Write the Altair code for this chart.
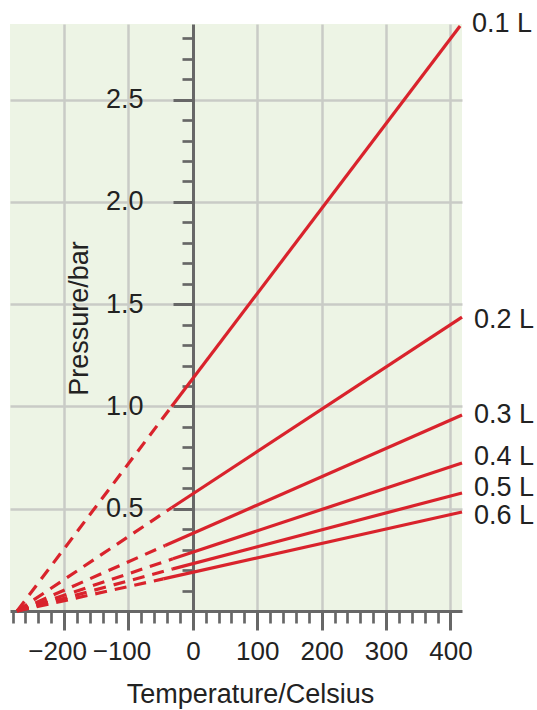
import altair as alt
import pandas as pd

# ---- data ----
volumes = ["0.1 L", "0.2 L", "0.3 L", "0.4 L", "0.5 L", "0.6 L"]
zero_temp = [-273, -273, -273, -273, -273, -273]
zero_p = [0.0, 0.0, 0.0, 0.0, 0.0, 0.0]
mid_temp = [-33, -33, -43, -31, -31, -46]
mid_p = [1.0, 0.505, 0.32, 0.255, 0.206, 0.157]
end_temp = [415, 418, 418, 418, 418, 418]
end_p = [2.86, 1.437, 0.958, 0.724, 0.577, 0.484]
label_p = [2.87, 1.423, 0.958, 0.752, 0.6, 0.463]

x_major = [-200, -100, 0, 100, 200, 300, 400]
x_grid = [-200, -100, 100, 200, 300, 400]
x_minor = [-280, -260, -240, -220, -200, -180, -160, -140, -120, -100,
           -80, -60, -40, -20, 0, 20, 40, 60, 80, 100, 120, 140, 160, 180,
           200, 220, 240, 260, 280, 300, 320, 340, 360, 380, 400]
y_major = [0.5, 1.0, 1.5, 2.0, 2.5]
y_minor = [0.1, 0.2, 0.3, 0.4, 0.5, 0.6, 0.7, 0.8, 0.9, 1.0, 1.1, 1.2, 1.3,
           1.4, 1.5, 1.6, 1.7, 1.8, 1.9, 2.0, 2.1, 2.2, 2.3, 2.4, 2.5, 2.6,
           2.7, 2.8]
x_domain = [-284, 418]
y_domain = [0, 2.87]

# ---- layout ----
W, H = 452, 587
Y_AXIS_OFFSET = -round((0 - x_domain[0]) / (x_domain[1] - x_domain[0]) * W)

FONT = "Liberation Sans"
FS = 27
TEXT = "#222222"
AXIS = "#676767"
GRID = "#c9cbc6"
RED = "#d9232c"

dashed = pd.DataFrame({"volume": volumes * 2,
                       "temp": zero_temp + mid_temp,
                       "p": zero_p + mid_p})
solid = pd.DataFrame({"volume": volumes * 2,
                      "temp": mid_temp + end_temp,
                      "p": mid_p + end_p})
labels = pd.DataFrame({"volume": volumes, "temp": end_temp, "p": label_p})

xs = alt.Scale(domain=x_domain, nice=False, zero=False)
ys = alt.Scale(domain=y_domain, nice=False, zero=False)

# grid-only axes
grid_x = alt.Axis(orient="bottom", values=x_grid, grid=True, gridColor=GRID,
                  gridWidth=2.5, ticks=False, labels=False, domain=False,
                  title=None)
grid_y = alt.Axis(orient="left", values=y_major, grid=True, gridColor=GRID,
                  gridWidth=2.5, ticks=False, labels=False, domain=False,
                  title=None)

# minor tick axes
minor_x = alt.Axis(orient="bottom", values=x_minor, grid=False, ticks=True,
                   tickSize=12, tickWidth=2.7, tickColor=AXIS, labels=False,
                   domain=False, title=None)
minor_y = alt.Axis(orient="left", values=y_minor, grid=False, ticks=True,
                   tickSize=11, tickWidth=2.7, tickColor=AXIS, labels=False,
                   domain=False, title=None, offset=Y_AXIS_OFFSET)

# major axes with labels and titles
major_x = alt.Axis(orient="bottom", values=x_major, grid=False, ticks=True,
                   tickSize=19, tickWidth=3, tickColor=AXIS, domain=True,
                   domainColor=AXIS, domainWidth=3, labels=True,
                   labelFont=FONT, labelFontSize=26, labelColor=TEXT,
                   labelPadding=8, labelOverlap=False, labelFlush=False,
                   labelOffset={"condition": {"test": "datum.value < 0",
                                              "value": -7},
                                "value": 0},
                   format="d",
                   title="Temperature/Celsius", titleFont=FONT,
                   titleFontSize=FS, titleFontWeight="normal",
                   titleColor=TEXT, titleX=240, titleY=91,
                   titleAlign="center", titleBaseline="alphabetic")
major_y = alt.Axis(orient="left", values=y_major, grid=False, ticks=True,
                   tickSize=20, tickWidth=3, tickColor=AXIS, domain=True,
                   domainColor=AXIS, domainWidth=3, labels=True,
                   labelFont=FONT, labelFontSize=FS, labelColor=TEXT,
                   labelPadding=30, labelOverlap=False, labelFlush=False,
                   format=".1f", offset=Y_AXIS_OFFSET,
                   title="Pressure/bar", titleFont=FONT, titleFontSize=FS,
                   titleFontWeight="normal", titleColor=TEXT, titleAngle=270,
                   titleX=-106, titleY=294, titleAlign="center",
                   titleBaseline="alphabetic")

dash_layer = alt.Chart(dashed).mark_line(
    color=RED, strokeWidth=3.2, strokeDash=[12, 8]
).encode(
    x=alt.X("temp:Q", scale=xs, axis=grid_x),
    y=alt.Y("p:Q", scale=ys, axis=grid_y),
    detail="volume:N",
)

solid_layer = alt.Chart(solid).mark_line(
    color=RED, strokeWidth=3.2
).encode(
    x=alt.X("temp:Q", scale=xs, axis=minor_x),
    y=alt.Y("p:Q", scale=ys, axis=minor_y),
    detail="volume:N",
)

label_layer = alt.Chart(labels).mark_text(
    align="left", baseline="middle", dx=12, font=FONT, fontSize=FS,
    color=TEXT
).encode(
    x=alt.X("temp:Q", scale=xs, axis=major_x),
    y=alt.Y("p:Q", scale=ys, axis=major_y),
    text="volume:N",
)

chart = alt.layer(dash_layer, solid_layer, label_layer).resolve_axis(
    x="independent", y="independent"
).properties(
    width=W,
    height=H,
    autosize=alt.AutoSizeParams(type="none"),
    padding={"left": 10, "top": 24, "right": 75, "bottom": 99},
    background="white",
).configure_view(
    fill="#edf4e5", stroke=None
)

chart.save("out.html", embed_options={"renderer": "svg", "actions": False})
